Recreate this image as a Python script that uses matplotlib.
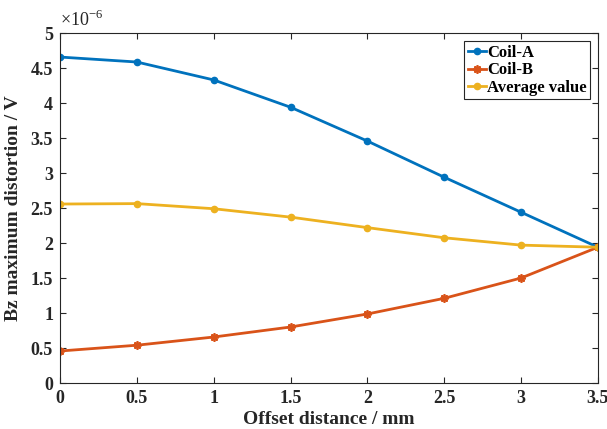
import matplotlib
matplotlib.use("Agg")
import matplotlib.pyplot as plt

offset_mm = [0, 0.5, 1, 1.5, 2, 2.5, 3, 3.5]
coil_a = [4.657, 4.586, 4.33, 3.94, 3.457, 2.94, 2.44, 1.94]
coil_b = [0.457, 0.54, 0.657, 0.80, 0.986, 1.21, 1.50, 1.94]
average = [2.557, 2.563, 2.49, 2.37, 2.22, 2.075, 1.97, 1.94]
x_ticks = [0, 0.5, 1, 1.5, 2, 2.5, 3, 3.5]
x_labels = ["0", "0.5", "1", "1.5", "2", "2.5", "3", "3.5"]
y_ticks = [0, 0.5, 1, 1.5, 2, 2.5, 3, 3.5, 4, 4.5, 5]
y_labels = ["0", "0.5", "1", "1.5", "2", "2.5", "3", "3.5", "4", "4.5", "5"]

plt.rcParams["font.family"] = ["Liberation Serif", "DejaVu Serif"]
plt.rcParams["mathtext.fontset"] = "custom"
plt.rcParams["mathtext.rm"] = "Liberation Serif"

fig = plt.figure(figsize=(6.07, 4.29), dpi=100)
ax = fig.add_axes([0.0988, 0.1072, 0.8862, 0.8158])

ax.plot(offset_mm, coil_a, color="#0072BD", lw=2, marker="o", ms=4.5, label="Coil-A")
ax.plot(offset_mm, coil_b, color="#D95319", lw=2, marker=(8, 2, 0), ms=6, mew=1.3,
        label="Coil-B")
ax.plot(offset_mm, average, color="#EDB120", lw=2, marker="o", ms=4.5, label="Average value")

ax.set_xlim(0, 3.5)
ax.set_ylim(0, 5)
ax.set_xticks(x_ticks)
ax.set_xticklabels(x_labels, fontsize=13, fontweight="bold")
ax.set_yticks(y_ticks)
ax.set_yticklabels(y_labels, fontsize=13, fontweight="bold")
ax.tick_params(direction="in", top=True, right=True, length=4, width=0.8,
               colors="#262626", labelcolor="#262626", pad=5)
for s in ax.spines.values():
    s.set_color("#262626")
    s.set_linewidth(0.8)

ax.set_xlabel("Offset distance / mm", fontsize=14, fontweight="bold", color="#262626", labelpad=3)
ax.set_ylabel("Bz maximum distortion / V", fontsize=14, fontweight="bold", color="#262626", labelpad=6)
ax.text(0.0, 1.008, r"$\times\mathrm{10}^{-6}$", transform=ax.transAxes, fontsize=13,
        ha="left", va="bottom", color="#262626")

leg = ax.legend(loc="upper right", bbox_to_anchor=(0.985, 0.976),
                prop={"weight": "bold", "size": 12}, handlelength=1.1, handletextpad=0.05,
                borderpad=0.2, labelspacing=0.1, fancybox=False, framealpha=1,
                borderaxespad=0.0)
leg.get_frame().set_edgecolor("#262626")
leg.get_frame().set_linewidth(0.8)

fig.savefig("out.png", dpi=100)
